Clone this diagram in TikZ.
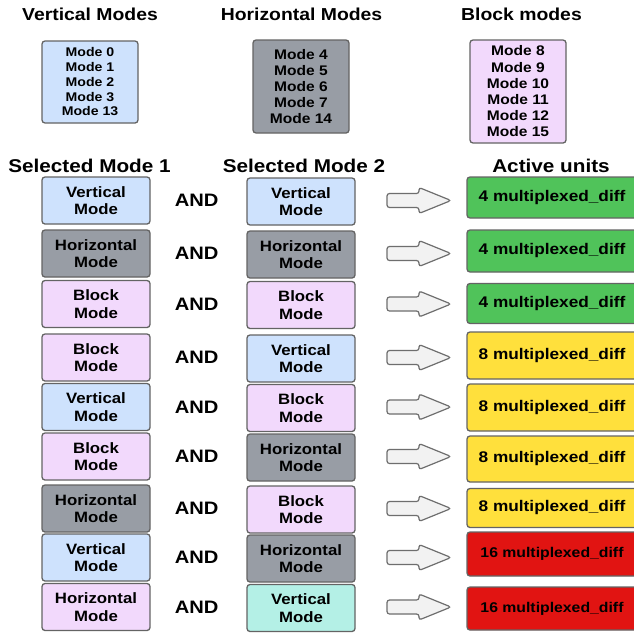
\documentclass[tikz,border=0pt]{standalone}
\usepackage{fontspec}
\setmainfont[FakeStretch=1.12]{Liberation Sans}
\definecolor{cblue}{RGB}{206,226,253}
\definecolor{cgray}{RGB}{152,157,165}
\definecolor{cpink}{RGB}{242,217,252}
\definecolor{cteal}{RGB}{180,240,230}
\definecolor{cgreen}{RGB}{80,195,90}
\definecolor{cyellow}{RGB}{255,224,60}
\definecolor{cred}{RGB}{225,20,18}
\definecolor{bordc}{RGB}{100,100,100}
\definecolor{arrfill}{RGB}{242,242,242}
\definecolor{arrdraw}{RGB}{110,110,110}
\tikzset{
  boxbase/.style={draw=bordc, line width=1.3pt, rounded corners=3pt, inner sep=0pt, align=center},
  topbox/.style={boxbase, minimum width=96pt},
  modebox/.style={boxbase, minimum width=108pt, minimum height=47pt, font=\fontsize{15}{17.5}\selectfont\bfseries},
  resbox/.style={boxbase, minimum width=170pt},
  head/.style={anchor=base, inner sep=0pt, font=\fontsize{17.3}{20}\selectfont\bfseries},
  subhead/.style={anchor=base, inner sep=0pt, font=\fontsize{18.5}{22}\selectfont\bfseries},
  andtxt/.style={inner sep=0pt, font=\fontsize{18}{20}\selectfont\bfseries},
  barrow/.pic={\draw[fill=arrfill, draw=arrdraw, line width=1.2pt, rounded corners=2.5pt]
     (0,7) -- (32,7) -- (32,13) -- (64,0) -- (32,-13) -- (32,-7) -- (0,-7) -- cycle;}
}
\begin{document}
\begin{tikzpicture}[x=1pt,y=1pt]
\path[use as bounding box] (0,0) rectangle (634,-635);
\clip (0,0) rectangle (634,-635);
\fill[white] (0,0) rectangle (634,-635);

% top headings
\node[head] (h1) at (90,-20) {Vertical Modes};
\node[head] (h2) at (301.5,-20) {Horizontal Modes};
\node[head] (h3) at (521.5,-20) {Block modes};

% top boxes
\node[topbox, fill=cblue, minimum height=82pt, font=\fontsize{12.6}{14.75}\selectfont\bfseries] (tv) at (90,-82)
  {Mode 0\\Mode 1\\Mode 2\\Mode 3\\Mode 13};
\node[topbox, fill=cgray, minimum height=93pt, font=\fontsize{13.9}{16.2}\selectfont\bfseries] (th) at (301,-86.5)
  {Mode 4\\Mode 5\\Mode 6\\Mode 7\\Mode 14};
\node[topbox, fill=cpink, minimum height=103pt, font=\fontsize{13.9}{16.2}\selectfont\bfseries] (tb) at (518,-91.5)
  {Mode 8\\Mode 9\\Mode 10\\Mode 11\\Mode 12\\Mode 15};

% sub headings
\node[subhead] (s1) at (89.5,-172.5) {Selected Mode 1};
\node[subhead] (s2) at (304,-172.5) {Selected Mode 2};
\node[subhead] (s3) at (551,-172.5) {Active units};

% rows
\foreach \i/\y/\ca/\ta/\cb/\tb/\ry/\rh/\rc/\rn/\rs in {
  1/200.5/cblue/Vertical/cblue/Vertical/197.5/41/cgreen/4/15.4,
  2/253.5/cgray/Horizontal/cgray/Horizontal/251/42/cgreen/4/15.4,
  3/304/cpink/Block/cpink/Block/303.5/40/cgreen/4/15.4,
  4/357.5/cpink/Block/cblue/Vertical/355.5/47/cyellow/8/15.4,
  5/407/cblue/Vertical/cpink/Block/407.5/47/cyellow/8/15.4,
  6/456.5/cpink/Block/cgray/Horizontal/459/46/cyellow/8/15.4,
  7/508.5/cgray/Horizontal/cpink/Block/508/39/cyellow/8/15.4,
  8/557.5/cblue/Vertical/cgray/Horizontal/554/44/cred/16/14.1,
  9/607/cpink/Horizontal/cteal/Vertical/608.5/43/cred/16/14.1}{
  \node[modebox, fill=\ca] (a\i) at (96,-\y) {\ta\\Mode};
  \node[andtxt] (and\i) at (196.7,-\y) {AND};
  \node[modebox, fill=\cb] (b\i) at (301,-\y-1) {\tb\\Mode};
  \pic (arr\i) at (387,-\y) {barrow};
  \node[resbox, fill=\rc, minimum height=\rh pt, font=\fontsize{\rs}{18}\selectfont\bfseries] (r\i) at (552,-\ry) {\rn\ multiplexed\_diff};
}
\end{tikzpicture}
\end{document}
